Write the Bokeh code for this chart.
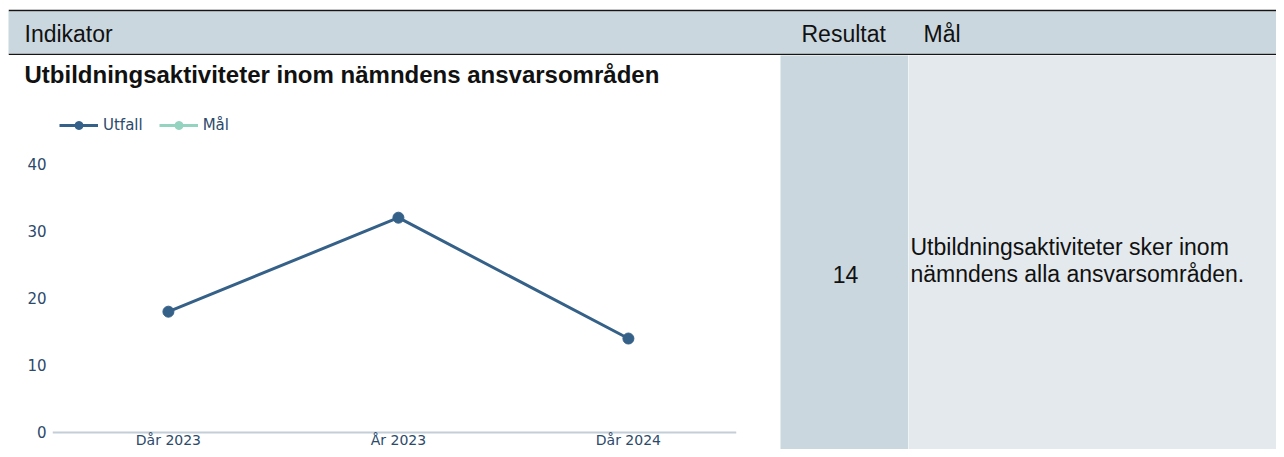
from bokeh.plotting import figure
from bokeh.models import Range1d, FixedTicker, Legend, LegendItem, Label
from bokeh.layouts import column, row
from bokeh.embed import file_html
from bokeh.resources import INLINE

# ---- data ----
categories = ["Dår 2023", "År 2023", "Dår 2024"]
utfall = [18, 32, 14]
mal = [float("nan"), float("nan"), float("nan")]
y_ticks = [0, 10, 20, 30, 40]
header_labels = ["Indikator", "Resultat", "Mål"]
indicator_title = "Utbildningsaktiviteter inom nämndens ansvarsområden"
result_value = utfall[-1]
goal_lines = ["Utbildningsaktiviteter sker inom", "nämndens alla ansvarsområden."]

# ---- styles ----
HEAD_BG = "#cad7df"
RES_BG = "#cad7df"
GOAL_BG = "#e4e9ed"
LINE_C = "#356189"
MAL_C = "#94d3bf"
TICK_C = "#2c4a6b"
AXIS_C = "#c3ced8"
TABLE_FONT = "Liberation Sans"
CHART_FONT = "DejaVu Sans"
TFS = "23px"


def blank(x0, x1, y0, y1, bg, top=0, bottom=0, border=None):
    """A plain panel whose data coordinates equal page pixels (y downwards)."""
    f = figure(width=x1 - x0, height=y1 - y0, output_backend="svg", toolbar_location=None,
               x_axis_type=None, y_axis_type=None,
               x_range=Range1d(x0, x1), y_range=Range1d(y1 - bottom, y0 + top),
               min_border_left=0, min_border_right=0, min_border_top=top,
               min_border_bottom=bottom, frame_align=False)
    f.background_fill_color = bg
    f.border_fill_color = border or bg
    f.outline_line_color = None
    f.grid.visible = False
    return f


def lab(fig, x, y, text, **kw):
    d = dict(x=x, y=y, text=text, text_font=TABLE_FONT, text_font_size=TFS,
             text_color="#111111", text_baseline="middle", text_align="left")
    d.update(kw)
    fig.add_layout(Label(**d))


W, H = 1276, 449

left_strip = blank(0, 8, 0, H, "white")
top_strip = blank(8, W, 0, 9, "white")

# ---- header row ----
header = blank(8, W, 9, 55, HEAD_BG, top=2, bottom=2, border="#151515")
for txt, xx in zip(header_labels, [24, 801, 923]):
    lab(header, xx, 33, txt)

# ---- indicator title ----
title_fig = blank(8, 780, 55, 100, "white")
lab(title_fig, 24, 74, indicator_title, text_font_style="bold", text_font_size="24px")

# ---- chart ----
p = figure(width=772, height=H - 100, output_backend="svg", toolbar_location=None,
           x_range=Range1d(-0.504, 2.470), y_range=Range1d(-2.533, 49.46),
           min_border_left=44, min_border_right=44, min_border_top=0, min_border_bottom=0,
           frame_align=False)
p.outline_line_color = None
p.grid.visible = False
p.background_fill_color = "white"
p.border_fill_color = "white"

idx = list(range(len(categories)))
l1 = p.line(idx, utfall, line_color=LINE_C, line_width=3)
c1 = p.scatter(idx, utfall, size=11, fill_color=LINE_C, line_color=LINE_C)
l2 = p.line(idx, mal, line_color=MAL_C, line_width=3)
c2 = p.scatter(idx, mal, size=6, fill_color=MAL_C, line_color=MAL_C)

xa = p.xaxis[0]
xa.fixed_location = 0
xa.ticker = FixedTicker(ticks=idx)
xa.major_label_overrides = {i: c for i, c in enumerate(categories)}
xa.axis_line_color = AXIS_C
xa.axis_line_width = 2
xa.major_tick_line_color = None
xa.minor_tick_line_color = None
xa.major_tick_out = 0
xa.major_tick_in = 0
xa.major_label_standoff = 0
xa.major_label_text_font = CHART_FONT
xa.major_label_text_font_size = "14px"
xa.major_label_text_color = TICK_C

ya = p.yaxis[0]
ya.ticker = FixedTicker(ticks=y_ticks)
ya.axis_line_color = None
ya.major_tick_line_color = None
ya.minor_tick_line_color = None
ya.major_tick_out = 0
ya.major_tick_in = 0
ya.major_label_standoff = 6
ya.major_label_text_font = CHART_FONT
ya.major_label_text_font_size = "15px"
ya.major_label_text_color = TICK_C

legend = Legend(items=[LegendItem(label="Utfall", renderers=[l1, c1]),
                       LegendItem(label="Mål", renderers=[l2, c2])],
                orientation="horizontal", location=(7, 314), padding=0, margin=0,
                spacing=16, glyph_width=39, glyph_height=20, label_height=20,
                label_standoff=5, label_text_font=CHART_FONT, label_text_font_size="15px",
                label_text_color=TICK_C, border_line_color=None, background_fill_alpha=0)
p.add_layout(legend)

# ---- result cell ----
res = blank(780, 908, 55, H, RES_BG)
lab(res, 845, 273.5, str(result_value), text_align="center")

# ---- goal cell ----
goal = blank(908, W, 55, H, GOAL_BG)
lab(goal, 910, 246.5, goal_lines[0])
lab(goal, 910, 273.5, goal_lines[1])

body = row(column(title_fig, p, spacing=0), res, goal, spacing=0)
layout = row(left_strip, column(top_strip, header, body, spacing=0), spacing=0)
open("out.html", "w").write(file_html(layout, INLINE))
